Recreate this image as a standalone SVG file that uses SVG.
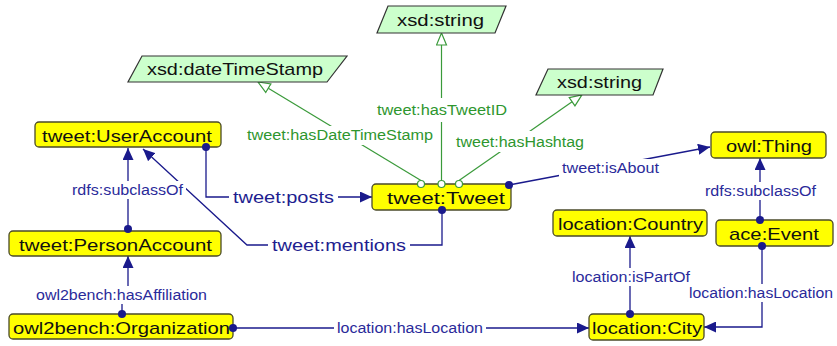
<svg xmlns="http://www.w3.org/2000/svg" width="837" height="346" viewBox="0 0 837 346">
<style>
.node rect{fill:#ffff00;stroke:#4a4a2a;stroke-width:1.3}
.dt polygon{fill:#ccffcc;stroke:#333333;stroke-width:1.2}
.nt{font-family:"Liberation Sans",Arial,sans-serif;font-size:17px;fill:#111111;text-anchor:middle}
.bl{fill:none;stroke:#1a1a8c;stroke-width:1.3}
.gl{fill:none;stroke:#3a9a3a;stroke-width:1.2}
.dot{fill:#1a1a8c}
.oc{fill:#ffffff;stroke:#3a9a3a;stroke-width:1.2}
.lb{fill:#ffffff}
.bt{font-family:"Liberation Sans",Arial,sans-serif;font-size:14px;fill:#2a2a9a;text-anchor:middle}
.bt2{font-family:"Liberation Sans",Arial,sans-serif;font-size:17px;fill:#1e1e90;text-anchor:middle}
.gt{font-family:"Liberation Sans",Arial,sans-serif;font-size:14px;fill:#2e962e;text-anchor:middle}
</style>
<defs>
<marker id="arr" viewBox="0 0 12 11" refX="12" refY="5.5" markerWidth="12" markerHeight="11" markerUnits="userSpaceOnUse" orient="auto"><path d="M0,0L12,5.5L0,11z" fill="#1a1a8c"/></marker>
<marker id="open" viewBox="-1 -1 14 12" refX="0" refY="5" markerWidth="14" markerHeight="12" markerUnits="userSpaceOnUse" orient="auto"><path d="M0,0L12,5L0,10z" fill="#ffffff" stroke="#3a9a3a" stroke-width="1.2"/></marker>
</defs>
<rect width="837" height="346" fill="#ffffff"/>

<g id="connectors">
<line class="gl" x1="421" y1="180.5" x2="268.3" y2="88.2" marker-end="url(#open)"/>
<line class="gl" x1="441.5" y1="180.5" x2="441.5" y2="45" marker-end="url(#open)"/>
<line class="gl" x1="459" y1="180.5" x2="572.1" y2="101.8" marker-end="url(#open)"/>
<line class="bl" x1="128" y1="229" x2="128" y2="148" marker-end="url(#arr)"/>
<path class="bl" d="M206,147V197H372" marker-end="url(#arr)"/>
<path class="bl" d="M442,210V245H247L143,149" marker-end="url(#arr)"/>
<line class="bl" x1="509" y1="185" x2="710" y2="147" marker-end="url(#arr)"/>
<line class="bl" x1="760" y1="220" x2="760" y2="158" marker-end="url(#arr)"/>
<line class="bl" x1="630" y1="314" x2="630" y2="236" marker-end="url(#arr)"/>
<path class="bl" d="M762,246V327H704" marker-end="url(#arr)"/>
<line class="bl" x1="233" y1="328" x2="589" y2="328" marker-end="url(#arr)"/>
<path class="bl" d="M122,314V296H128V256" marker-end="url(#arr)"/>

<rect class="lb" x="244" y="126" width="192" height="19"/>
<text class="gt" x="340" y="140" textLength="186" lengthAdjust="spacingAndGlyphs">tweet:hasDateTimeStamp</text>
<rect class="lb" x="374" y="98" width="136" height="24"/>
<text class="gt" x="442" y="115" textLength="130" lengthAdjust="spacingAndGlyphs">tweet:hasTweetID</text>
<rect class="lb" x="453" y="131" width="134" height="21"/>
<text class="gt" x="520" y="147" textLength="128" lengthAdjust="spacingAndGlyphs">tweet:hasHashtag</text>

<rect class="lb" x="69" y="181" width="117" height="18"/>
<text class="bt" x="127.5" y="195" textLength="111" lengthAdjust="spacingAndGlyphs">rdfs:subclassOf</text>
<rect class="lb" x="229" y="187" width="109" height="20"/>
<text class="bt2" x="283.5" y="203" textLength="101" lengthAdjust="spacingAndGlyphs">tweet:posts</text>
<rect class="lb" x="268" y="235" width="142" height="20"/>
<text class="bt2" x="339" y="251" textLength="134" lengthAdjust="spacingAndGlyphs">tweet:mentions</text>
<rect class="lb" x="559" y="159" width="103" height="18"/>
<text class="bt" x="610.5" y="173" textLength="97" lengthAdjust="spacingAndGlyphs">tweet:isAbout</text>
<rect class="lb" x="702" y="182" width="117" height="18"/>
<text class="bt" x="760.5" y="196" textLength="111" lengthAdjust="spacingAndGlyphs">rdfs:subclassOf</text>
<rect class="lb" x="569" y="268" width="124" height="18"/>
<text class="bt" x="631" y="282" textLength="118" lengthAdjust="spacingAndGlyphs">location:isPartOf</text>
<rect class="lb" x="686" y="284" width="150" height="18"/>
<text class="bt" x="761" y="298" textLength="144" lengthAdjust="spacingAndGlyphs">location:hasLocation</text>
<rect class="lb" x="334" y="319" width="152" height="18"/>
<text class="bt" x="410" y="333" textLength="146" lengthAdjust="spacingAndGlyphs">location:hasLocation</text>
<rect class="lb" x="33" y="286" width="177" height="18"/>
<text class="bt" x="121.5" y="300" textLength="171" lengthAdjust="spacingAndGlyphs">owl2bench:hasAffiliation</text>
</g>

<g id="xsd-dateTimeStamp" class="dt">
<polygon points="142,56 347,56 327,82 128,82"/>
<text class="nt" x="235" y="75" textLength="176" lengthAdjust="spacingAndGlyphs">xsd:dateTimeStamp</text>
</g>
<g id="xsd-string-1" class="dt">
<polygon points="388,6 506,6 495,33 377,33"/>
<text class="nt" x="440.5" y="26" textLength="87" lengthAdjust="spacingAndGlyphs">xsd:string</text>
</g>
<g id="xsd-string-2" class="dt">
<polygon points="548,69 663,69 653,95 536,95"/>
<text class="nt" x="599.5" y="88" textLength="85" lengthAdjust="spacingAndGlyphs">xsd:string</text>
</g>

<g id="tweet-UserAccount" class="node">
<rect x="35" y="122" width="186" height="25" rx="4"/>
<text class="nt" x="127" y="142" textLength="170" lengthAdjust="spacingAndGlyphs">tweet:UserAccount</text>
</g>
<g id="tweet-PersonAccount" class="node">
<rect x="9" y="231" width="212" height="25" rx="4"/>
<text class="nt" x="115.5" y="251" textLength="193" lengthAdjust="spacingAndGlyphs">tweet:PersonAccount</text>
</g>
<g id="owl2bench-Organization" class="node">
<rect x="9" y="314" width="224" height="25" rx="4"/>
<text class="nt" x="121.5" y="334" textLength="217" lengthAdjust="spacingAndGlyphs">owl2bench:Organization</text>
</g>
<g id="tweet-Tweet" class="node">
<rect x="372" y="184" width="139" height="26" rx="4"/>
<text class="nt" x="446" y="204" textLength="118" lengthAdjust="spacingAndGlyphs">tweet:Tweet</text>
</g>
<g id="owl-Thing" class="node">
<rect x="711" y="132" width="115" height="26" rx="4"/>
<text class="nt" x="769" y="152" textLength="86" lengthAdjust="spacingAndGlyphs">owl:Thing</text>
</g>
<g id="ace-Event" class="node">
<rect x="716" y="220" width="117" height="26" rx="4"/>
<text class="nt" x="774" y="240" textLength="90" lengthAdjust="spacingAndGlyphs">ace:Event</text>
</g>
<g id="location-Country" class="node">
<rect x="553" y="210" width="154" height="26" rx="4"/>
<text class="nt" x="630.5" y="230" textLength="145" lengthAdjust="spacingAndGlyphs">location:Country</text>
</g>
<g id="location-City" class="node">
<rect x="589" y="314" width="115" height="26" rx="4"/>
<text class="nt" x="647" y="334" textLength="110" lengthAdjust="spacingAndGlyphs">location:City</text>
</g>

<g id="endpoints">
<circle class="oc" cx="421" cy="184" r="3.5"/>
<circle class="oc" cx="441.5" cy="184" r="3.5"/>
<circle class="oc" cx="459" cy="184" r="3.5"/>
<circle class="dot" cx="128" cy="229" r="4"/>
<circle class="dot" cx="206" cy="147" r="4"/>
<circle class="dot" cx="442" cy="210" r="4"/>
<circle class="dot" cx="509" cy="185" r="4"/>
<circle class="dot" cx="760" cy="220" r="4"/>
<circle class="dot" cx="630" cy="314" r="4"/>
<circle class="dot" cx="762" cy="246" r="4"/>
<circle class="dot" cx="233" cy="328" r="4"/>
<circle class="dot" cx="122" cy="314" r="4"/>
</g>
</svg>
